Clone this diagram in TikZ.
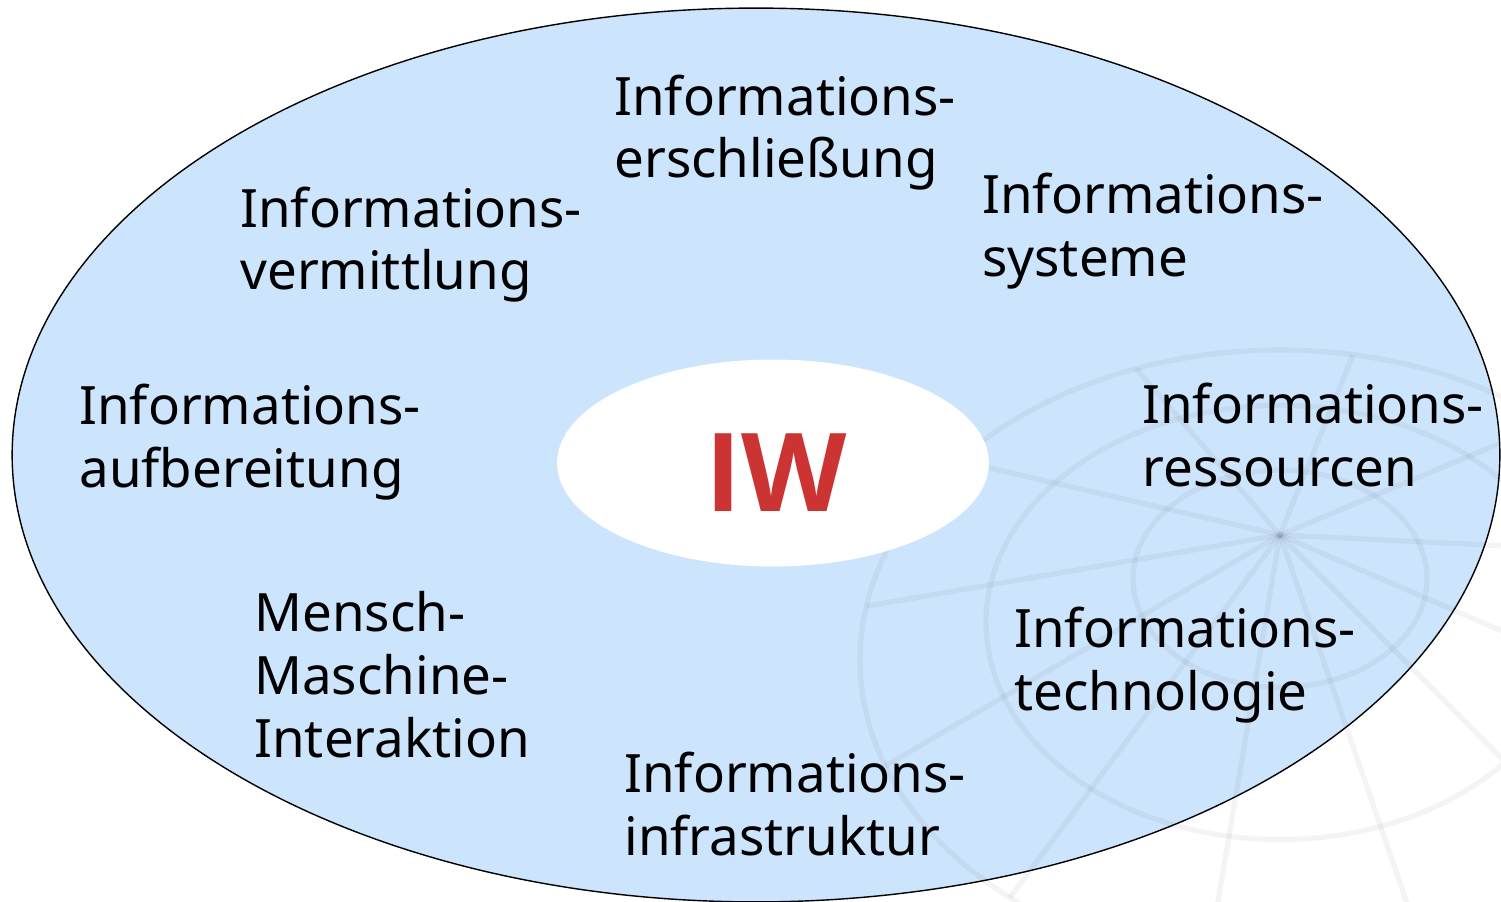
\documentclass[tikz,border=0pt]{standalone}
\usepackage{fontspec}
\setmainfont{Noto Sans}
\newfontfamily\iwfont{Open Sans}
\usepackage{tikz}
\usetikzlibrary{shapes}
\definecolor{iwblue}{RGB}{204,228,252}
\definecolor{iwred}{RGB}{204,51,51}
\tikzstyle{field}=[
	ellipse,
	draw=black,
	line width=0.8pt,
	fill=iwblue,
	inner sep=0pt,
	minimum width=29.76cm,
	minimum height=17.88cm
]
\tikzstyle{core}=[
	ellipse,
	fill=white,
	inner sep=0pt,
	minimum width=8.64cm,
	minimum height=4.14cm
]
\tikzstyle{topic}=[
	anchor=base west,
	align=left,
	inner sep=0pt,
	font=\fontsize{30.1}{35.7}\selectfont
]
\tikzstyle{globeline}=[
	draw=black,
	opacity=0.045,
	line width=3pt
]

\begin{document}
\begin{tikzpicture}[x=0.02cm, y=-0.02cm]
\useasboundingbox (0,0) rectangle (1501,902);
\clip (0,0) rectangle (1501,902);

\node[field] (field) at (756,455) {};

% globe in the background
\coordinate (pole) at (1280,535);
\foreach \a in {10,40,...,340}{
    \draw[globeline] (pole) -- (1280+420*cos \a, 660+310*sin \a);
}
\foreach \t in {0.35,0.7,1}{
    \draw[globeline] (1280,535+125*\t) ellipse ({420*\t} and {310*\t});
}

\node[core] (core) at (773,463) {};
\node[anchor=base, inner sep=0pt, text=iwred,
      font=\iwfont\fontsize{62}{62}\selectfont\bfseries] (iw) at (776,511) {IW};

% y is the baseline of the last line
\foreach \x/\y/\n/\t in {614/178/erschl/{Informations-\\erschließung},
                         240/290/vermittl/{Informations-\\vermittlung},
                         982/276/syst/{Informations-\\systeme},
                         79/487/aufber/{Informations-\\aufbereitung},
                         1142/486/ressou/{Informations-\\ressourcen},
                         254/757/mmi/{Mensch-\\Maschine-\\Interaktion},
                         1014/710/techn/{Informations-\\technologie},
                         624/855/infra/{Informations-\\infrastruktur}}{
    \node[topic] (\n) at (\x,\y) {\t};
}
\end{tikzpicture}
\end{document}
